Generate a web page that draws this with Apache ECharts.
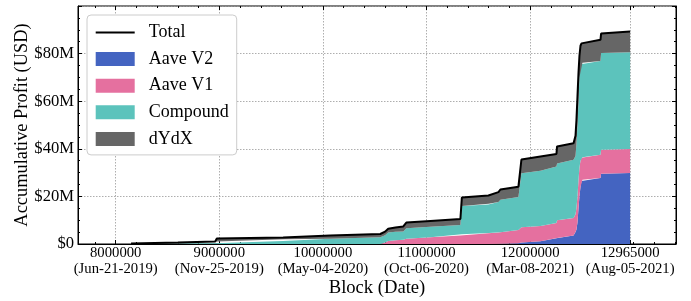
<!DOCTYPE html>
<html>
<head>
<meta charset="utf-8">
<script src="https://cdn.jsdelivr.net/npm/echarts@6/dist/echarts.min.js"></script>
<style>
  html, body { margin: 0; padding: 0; background: #fff; }
  #chart { width: 691px; height: 301px; }
</style>
</head>
<body>
<div id="chart"></div>
<script>
// block numbers where the cumulative profit was read (values in $M)
const blocks = [8148000, 8600000, 8960000, 8976000, 9616000, 9630000, 10070000, 10554000,
  10600000, 10630000, 10700000, 10776000, 10805000, 11037000, 11327000, 11341000,
  11597000, 11600000, 11694000, 11713000, 11887000, 11916000, 12100000, 12254000,
  12260000, 12419000, 12438000, 12447000, 12457000, 12467000, 12476000, 12486000,
  12496000, 12505000, 12679000, 12685000, 12965000]
const aaveV2 = [0, 0, 0, 0, 0, 0, 0, 0, 0, 0, 0, 0, 0, 0, 0, 0, 0, 0, 0, 0.1, 0.3, 0.6, 1.2, 2.4,
  2.5, 3.6, 5, 6, 9, 15, 20, 24, 26.5, 27, 27.7, 29.5, 29.8]
const aaveV1 = [0, 0, 0, 0, 0, 0, 0, 0, 0.6, 1.3, 1.6, 1.8, 2.2, 2.8, 3.6, 4.1, 4.5, 4.6, 4.8, 4.8,
  5.6, 6.4, 6.4, 6.4, 7.5, 7.3, 7.5, 9, 11, 12, 12, 11, 9.7, 9.4, 9.8, 10.1, 10.1]
const compound = [0.05, 0.2, 0.3, 1.0, 1.3, 2.0, 2.2, 2.8, 3.1, 3.5, 3.5, 3.5, 4.4, 4.4, 4.4, 11.9,
  12.1, 12.3, 12.8, 13.7, 13.8, 22.7, 23.2, 23.8, 23.8, 24.5, 24.5, 27, 30, 33, 38, 40.5, 39.8,
  39.8, 39.4, 40.7, 40.7]
const dydx = [0.15, 0.4, 0.75, 1.3, 1.4, 1.4, 1.4, 1.4, 1.5, 1.6, 1.8, 2.1, 2.4, 2.5, 2.5, 3.5, 3.8,
  4.0, 4.2, 4.3, 4.4, 5.8, 6.0, 5.2, 7.2, 6.9, 8.5, 10, 12, 12, 9, 7.8, 8.3, 8.4, 8.9, 8.1, 8.7]
const total = [0.2, 0.6, 1.05, 2.3, 2.7, 3.4, 3.6, 4.2, 5.2, 6.4, 6.9, 7.4, 9.0, 9.7, 10.5, 19.5,
  20.4, 20.9, 21.8, 22.9, 24.1, 35.5, 36.8, 37.8, 41.0, 42.3, 45.5, 52, 62, 72, 79, 83.3, 84.3,
  84.6, 85.8, 88.4, 89.3]

const tickBlocks = [8000000, 9000000, 10000000, 11000000, 12000000, 12965000]
const tickDates = ['Jun-21-2019', 'Nov-25-2019', 'May-04-2020', 'Oct-06-2020', 'Mar-08-2021', 'Aug-05-2021']

const X_MIN = 7636000
const X_MAX = 13408000
const minorBlocks = []
for (let b = 7800000; b < X_MAX; b += 200000) {
  if (tickBlocks.indexOf(b) < 0) minorBlocks.push(b)
}

const FONT = 'Liberation Serif'

const layers = [
  { name: 'Aave V2', data: aaveV2, color: '#4464c1' },
  { name: 'Aave V1', data: aaveV1, color: '#e5709f' },
  { name: 'Compound', data: compound, color: '#5cc3bc' },
  { name: 'dYdX', data: dydx, color: '#666666' }
]

const tickAxis = (position, values, len) => ({
  type: 'value', position, min: X_MIN, max: X_MAX,
  axisLine: { show: false },
  axisTick: { show: true, inside: true, length: len, customValues: values, lineStyle: { color: '#000', width: 1 } },
  axisLabel: { show: false },
  splitLine: { show: false }
})

const chart = echarts.init(document.getElementById('chart'), null, { renderer: 'canvas' })
chart.setOption({
  animation: false,
  backgroundColor: '#fff',
  textStyle: { fontFamily: FONT, color: '#000' },
  grid: {
    left: 78, right: 15, top: 6, bottom: 57, outerBoundsMode: 'none',
    show: true, borderColor: '#000', borderWidth: 1, backgroundColor: 'transparent'
  },
  legend: {
    orient: 'vertical', left: 87, top: 15,
    padding: [8.5, 8, 7, 7.7],
    itemWidth: 39, itemHeight: 14, itemGap: 8.6,
    backgroundColor: '#fff', borderColor: '#cccccc', borderWidth: 1, borderRadius: 4,
    itemStyle: { borderWidth: 0 },
    textStyle: { fontFamily: FONT, fontSize: 18, color: '#000', padding: [0, 0, 0, 9] },
    data: [
      { name: 'Total', itemStyle: { opacity: 0 } },
      { name: 'Aave V2', icon: 'rect' },
      { name: 'Aave V1', icon: 'rect' },
      { name: 'Compound', icon: 'rect' },
      { name: 'dYdX', icon: 'rect' }
    ]
  },
  xAxis: [
    {
      type: 'value', position: 'bottom', min: X_MIN, max: X_MAX,
      name: 'Block (Date)', nameLocation: 'middle', nameGap: 35, nameMoveOverlap: false,
      nameTextStyle: { fontFamily: FONT, fontSize: 18.6, color: '#000' },
      axisLine: { show: true, lineStyle: { color: '#000', width: 1 } },
      axisTick: { show: true, inside: true, length: 4, customValues: tickBlocks, lineStyle: { color: '#000' } },
      axisLabel: {
        show: true, customValues: tickBlocks, margin: 1,
        fontFamily: FONT, fontSize: 14.7, lineHeight: 16, color: '#000',
        formatter: v => v + '\n(' + tickDates[tickBlocks.indexOf(v)] + ')'
      },
      splitLine: { show: true, lineStyle: { color: '#999', width: 0.8, type: [1.5, 1.5] } }
    },
    tickAxis('bottom', minorBlocks, 2),
    tickAxis('top', tickBlocks, 4),
    tickAxis('top', minorBlocks, 2)
  ],
  yAxis: [
    {
      type: 'value', position: 'left', min: 0, max: 100, interval: 20,
      name: 'Accumulative Profit (USD)', nameLocation: 'middle', nameGap: 47, nameMoveOverlap: false,
      nameTextStyle: { fontFamily: FONT, fontSize: 18.4, color: '#000' },
      axisLine: { show: true, lineStyle: { color: '#000', width: 1 } },
      axisTick: { show: true, inside: true, length: 4, lineStyle: { color: '#000' } },
      minorTick: { show: true, splitNumber: 4, length: 2, lineStyle: { color: '#000' } },
      axisLabel: {
        fontFamily: FONT, fontSize: 16.6, color: '#000', margin: 4, showMaxLabel: false,
        formatter: v => v === 0 ? '$0' : '$' + v + 'M'
      },
      splitLine: { show: true, lineStyle: { color: '#999', width: 0.8, type: [1.5, 1.5] } }
    },
    {
      type: 'value', position: 'right', min: 0, max: 100, interval: 20,
      axisLine: { show: true, lineStyle: { color: '#000', width: 1 } },
      axisTick: { show: true, inside: true, length: 4, lineStyle: { color: '#000' } },
      minorTick: { show: true, splitNumber: 4, length: 2, lineStyle: { color: '#000' } },
      axisLabel: { show: false },
      splitLine: { show: false }
    }
  ],
  // stacked layers: value first, block second, so the stack runs on the y dimension
  series: layers.map(l => ({
    name: l.name, type: 'line', stack: 'protocols',
    xAxisIndex: 0, yAxisIndex: 0,
    data: blocks.map((b, i) => [l.data[i], b]),
    encode: { x: 1, y: 0 },
    symbol: 'none', color: l.color,
    lineStyle: { width: 0, color: l.color },
    areaStyle: { color: l.color, opacity: 1 },
    z: 2
  })).concat([{
    name: 'Total', type: 'line',
    xAxisIndex: 0, yAxisIndex: 0,
    data: blocks.map((b, i) => [b, total[i]]),
    symbol: 'none', color: '#000',
    lineStyle: { width: 2, color: '#000' },
    z: 3
  }])
})
</script>
</body>
</html>
